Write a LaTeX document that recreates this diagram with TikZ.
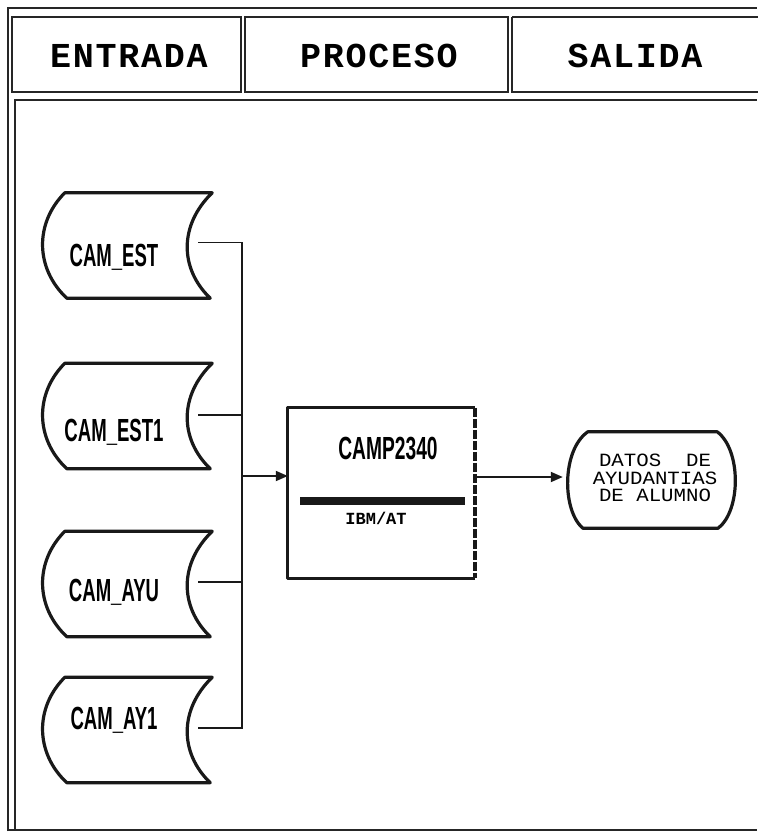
\documentclass[tikz,border=0pt]{standalone}
\usepackage{fontspec}
\setmainfont{Liberation Sans}
\newfontfamily\hdrfont{Liberation Mono}[LetterSpace=5]
\newfontfamily\monofont{Liberation Mono}
\usetikzlibrary{arrows.meta}
\tikzset{
  frameline/.style={line width=2pt, black!85},
  shapeline/.style={line width=3.2pt, black!90, line join=round},
  conn/.style={line width=1.8pt, black!90},
  arr/.style={conn, -{Triangle[length=12pt,width=10pt]}},
  store/.style={minimum width=169pt, minimum height=105pt, inner sep=0pt},
  disp/.style={minimum width=168pt, minimum height=96pt, inner sep=0pt},
  storetext/.style={inner sep=0pt, font=\bfseries\fontsize{32}{32}\selectfont},
  hdr/.style={inner sep=0pt, font=\hdrfont\bfseries\fontsize{35}{35}\selectfont},
  proc/.style={minimum width=187pt, minimum height=170pt, inner sep=0pt}
}
\newcommand\storeoutline[1]{%
  \draw[shapeline] ([shift={(22,0)}]#1.north west) -- (#1.north east)
    .. controls ([shift={(-33,32)}]#1.north east) and ([shift={(-33,-30)}]#1.south east) .. ([shift={(-2,0)}]#1.south east)
    -- ([shift={(24,0)}]#1.south west)
    .. controls ([shift={(-8,-30)}]#1.south west) and ([shift={(-8,30)}]#1.north west) .. cycle;}
\begin{document}
\begin{tikzpicture}[x=1pt,y=-1pt]
\useasboundingbox[fill=white] (0,0) rectangle (757,834);
% outer frame
\draw[frameline] (8,831) -- (8,8) -- (757,8);
\draw[frameline] (15,829) -- (15,100) -- (757,100);
\draw[frameline] (8,830) -- (757,830);
% header cells
\draw[frameline] (12,17) rectangle (241,92);
\draw[frameline] (245,17) rectangle (508,92);
\draw[frameline] (512,17) -- (760,17);
\draw[frameline] (512,17) -- (512,92) -- (760,92);
\node[hdr] (hE) at (129,56) {ENTRADA};
\node[hdr] (hP) at (379,56) {PROCESO};
\node[hdr] (hS) at (635,56) {SALIDA};
% input stores
\node[store] (e1) at (127.5,245.5) {};
\node[store] (e2) at (127.5,416) {};
\node[store] (e3) at (127.5,584) {};
\node[store] (e4) at (127.5,730) {};
\storeoutline{e1}\storeoutline{e2}\storeoutline{e3}\storeoutline{e4}
\node[storetext] (e1t) at (114,257) {\scalebox{0.58}[1]{CAM\_EST}};
\node[storetext] (e2t) at (114,432) {\scalebox{0.58}[1]{CAM\_EST1}};
\node[storetext] (e3t) at (114,592) {\scalebox{0.58}[1]{CAM\_AYU}};
\node[storetext] (e4t) at (114,720) {\scalebox{0.58}[1]{CAM\_AY1}};
% process box
\node[proc] (p) at (381.5,493) {};
\draw[shapeline] (p.north east) -- (p.north west) -- (p.south west) -- (p.south east);
\draw[line width=3.6pt, black!90, dash pattern=on 9pt off 2pt] (p.north east) -- (p.south east);
\node[storetext] (pt) at (388,449) {\scalebox{0.6}[1]{CAMP2340}};
\node[fill=black!90, minimum width=165pt, minimum height=8pt, inner sep=0pt] (bar) at (382.5,501) {};
\node[inner sep=0pt, font=\monofont\bfseries\fontsize{17}{17}\selectfont] (ibm) at (376,518) {IBM/AT};
% output display
\node[disp] (o) at (651,480) {};
\draw[shapeline] ([shift={(21,0)}]o.north west) -- ([shift={(-18,0)}]o.north east)
  .. controls ([shift={(6,18)}]o.north east) and ([shift={(6,-18)}]o.south east) .. ([shift={(-17,0)}]o.south east)
  -- ([shift={(16,0)}]o.south west)
  .. controls ([shift={(-5,-18)}]o.south west) and ([shift={(-5,18)}]o.north west) .. cycle;
\node[inner sep=0pt, align=center, font=\monofont\fontsize{17}{17.5}\selectfont] (ot) at (655,478) {\scalebox{1.22}[1.1]{DATOS\ \ DE}\\\scalebox{1.22}[1.1]{AYUDANTIAS}\\\scalebox{1.22}[1.1]{DE ALUMNO}};
% connectors
\coordinate (c1) at ([shift={(-14,-3)}]e1.east);
\coordinate (c2) at ([shift={(-14,-1)}]e2.east);
\coordinate (c3) at ([shift={(-14,-2)}]e3.east);
\coordinate (c4) at ([shift={(-14,-2)}]e4.east);
\coordinate (bus1) at (242,242.5);
\coordinate (bus4) at (242,728);
\coordinate (busin) at (242,476);
\draw[conn] (c1) -- (c1 -| bus1) -- (bus4 |- c4) -- (c4);
\draw[conn] (c2) -- (c2 -| bus1);
\draw[conn] (c3) -- (c3 -| bus1);
\draw[arr] (busin) -- (busin -| p.west);
\coordinate (pout) at (p.east |- 0,477);
\draw[arr] (pout) -- ([xshift=-4pt]o.west |- pout);
\end{tikzpicture}
\end{document}
